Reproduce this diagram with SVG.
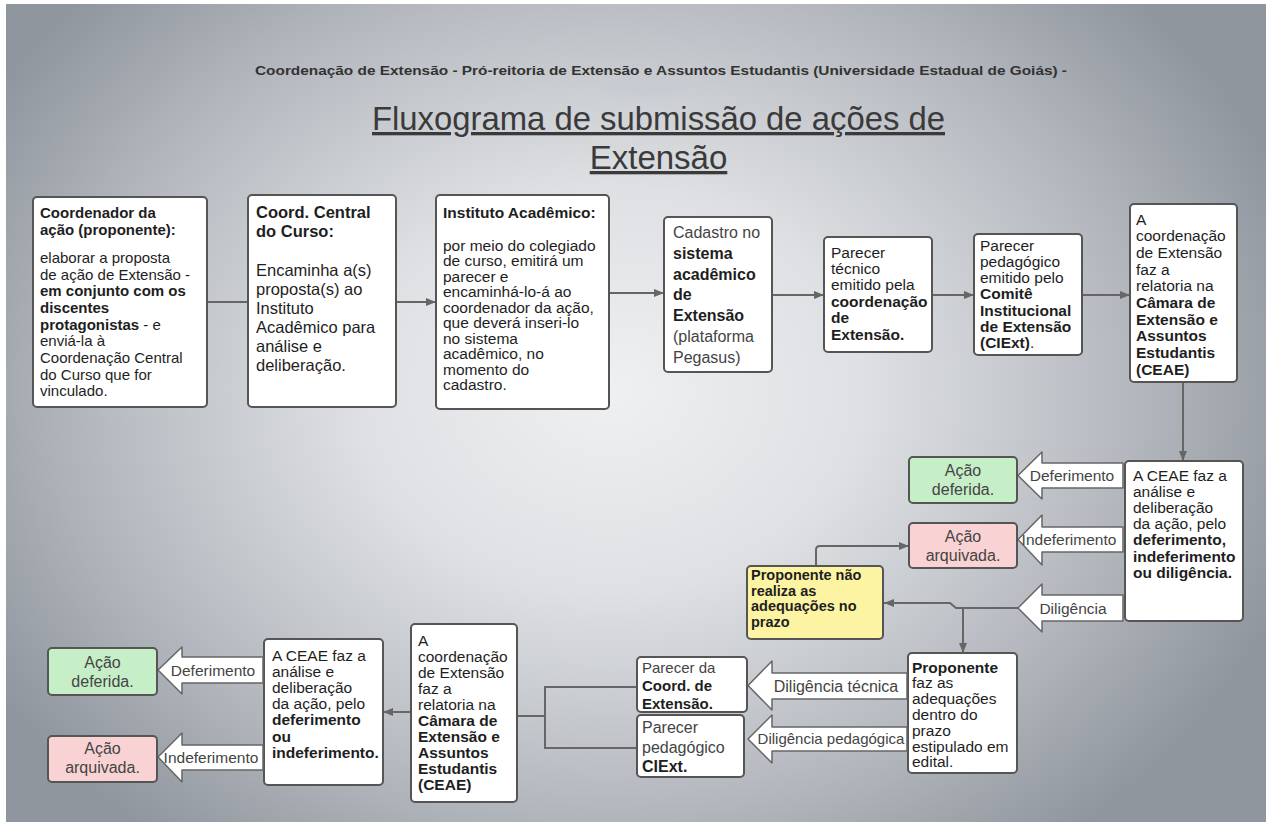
<svg xmlns="http://www.w3.org/2000/svg" width="1270" height="826" viewBox="0 0 1270 826">
<defs>
<radialGradient id="bg" gradientUnits="userSpaceOnUse" cx="610" cy="390" r="720" gradientTransform="translate(610 390) scale(1 0.8) translate(-610 -390)">
<stop offset="0" stop-color="#eff0f2"/>
<stop offset="0.35" stop-color="#dee0e3"/>
<stop offset="0.7" stop-color="#b7bbc1"/>
<stop offset="1" stop-color="#90969e"/>
</radialGradient>
<filter id="blur" x="-50%" y="-50%" width="200%" height="200%"><feGaussianBlur stdDeviation="4"/></filter>
<marker id="ah" viewBox="0 0 10 8" refX="10" refY="4" markerWidth="10" markerHeight="8" markerUnits="userSpaceOnUse" orient="auto"><path d="M0,0 L10,4 L0,8 z" fill="#666"/></marker>
<style>
.box{fill:#fff;stroke:#555;stroke-width:2}
.green{fill:#c6efc8;stroke:#555;stroke-width:2}
.red{fill:#f9d3d3;stroke:#555;stroke-width:2}
.yellow{fill:#fdf4a3;stroke:#555;stroke-width:2}
.barrow{fill:#fff;stroke:#666;stroke-width:1.5;stroke-linejoin:round}
.t{font-family:"Liberation Sans",Arial,sans-serif;font-size:15.5px;fill:#1e1e1e}
.g{fill:#444}
.b{font-weight:bold}
.c{text-anchor:middle}
.conn{stroke:#666;stroke-width:2;fill:none}
.arr{marker-end:url(#ah)}
</style>
</defs>
<rect width="1270" height="826" fill="#fff"/>
<rect x="6" y="4" width="1260" height="818" fill="url(#bg)"/>
<ellipse cx="645" cy="88" rx="38" ry="9" fill="#c4cbd1" opacity="0.6" filter="url(#blur)"/>

<g id="header">
<text x="661" y="75" class="t b c" style="font-size:13px;fill:#333" textLength="812" lengthAdjust="spacingAndGlyphs">Coordenação de Extensão - Pró-reitoria de Extensão e Assuntos Estudantis (Universidade Estadual de Goiás) -</text>
<text x="658.5" y="130" class="t c" style="font-size:33px;fill:#3a3a3a;text-decoration:underline" textLength="573" lengthAdjust="spacingAndGlyphs">Fluxograma de submissão de ações de</text>
<text x="658.5" y="169" class="t c" style="font-size:33px;fill:#3a3a3a;text-decoration:underline">Extensão</text>
</g>

<g id="connectors">
<path class="conn" d="M207,302 H248"/>
<path class="conn arr" d="M396,302 H436"/>
<path class="conn arr" d="M609,293 H664"/>
<path class="conn arr" d="M772,295 H824"/>
<path class="conn arr" d="M932,295 H974"/>
<path class="conn arr" d="M1082,295 H1130"/>
<path class="conn arr" d="M1183,382 V461"/>
<path class="conn arr" d="M1018,608 H956 L950,603 H884"/>
<path class="conn arr" d="M963,608 V653"/>
<path class="conn arr" d="M816,566 V550 Q816,546 820,546 H909"/>
<path class="conn arr" d="M411,712 H383"/>
<path class="conn" d="M637,687 H545 V748 H637"/>
<path class="conn" d="M545,716 H517"/>
</g>

<g id="n1">
<rect class="box" x="33" y="197" width="174" height="210" rx="4"/>
<text class="t b" x="40" y="218" style="font-size:15px">Coordenador da</text>
<text class="t b" x="40" y="235" style="font-size:15px">ação (proponente):</text>
<text class="t" x="40" y="263" style="font-size:15px">elaborar a proposta</text>
<text class="t" x="40" y="280" style="font-size:15px">de ação de Extensão -</text>
<text class="t b" x="40" y="296" style="font-size:15px">em conjunto com os</text>
<text class="t b" x="40" y="313" style="font-size:15px">discentes</text>
<text class="t" x="40" y="330" style="font-size:15px"><tspan class="b">protagonistas</tspan> - e</text>
<text class="t" x="40" y="346" style="font-size:15px">enviá-la à</text>
<text class="t" x="40" y="363" style="font-size:15px">Coordenação Central</text>
<text class="t" x="40" y="380" style="font-size:15px">do Curso que for</text>
<text class="t" x="40" y="396" style="font-size:15px">vinculado.</text>
</g>

<g id="n2">
<rect class="box" x="248" y="195" width="148" height="212" rx="4"/>
<text class="t b" x="256" y="218" style="font-size:16.5px">Coord. Central</text>
<text class="t b" x="256" y="237" style="font-size:16.5px">do Curso:</text>
<text class="t" x="256" y="276" style="font-size:16.5px">Encaminha a(s)</text>
<text class="t" x="256" y="295" style="font-size:16.5px">proposta(s) ao</text>
<text class="t" x="256" y="314" style="font-size:16.5px">Instituto</text>
<text class="t" x="256" y="333" style="font-size:16.5px">Acadêmico para</text>
<text class="t" x="256" y="352" style="font-size:16.5px">análise e</text>
<text class="t" x="256" y="371" style="font-size:16.5px">deliberação.</text>
</g>

<g id="n3">
<rect class="box" x="436" y="195" width="173" height="214" rx="4"/>
<text class="t b" x="443" y="218">Instituto Acadêmico:</text>
<text class="t" x="443" y="250.5">por meio do colegiado</text>
<text class="t" x="443" y="266">de curso, emitirá um</text>
<text class="t" x="443" y="281.5">parecer e</text>
<text class="t" x="443" y="297">encaminhá-lo-á ao</text>
<text class="t" x="443" y="312.5">coordenador da ação,</text>
<text class="t" x="443" y="328">que deverá inseri-lo</text>
<text class="t" x="443" y="343.5">no sistema</text>
<text class="t" x="443" y="359">acadêmico, no</text>
<text class="t" x="443" y="374.5">momento do</text>
<text class="t" x="443" y="390">cadastro.</text>
</g>

<g id="n4">
<rect class="box" x="664" y="217" width="108" height="155" rx="4"/>
<text class="t g" x="673" y="238" style="font-size:16px">Cadastro no</text>
<text class="t b" x="673" y="258.8" style="font-size:16px">sistema</text>
<text class="t b" x="673" y="279.6" style="font-size:16px">acadêmico</text>
<text class="t b" x="673" y="300.4" style="font-size:16px">de</text>
<text class="t b" x="673" y="321.2" style="font-size:16px">Extensão</text>
<text class="t g" x="673" y="342" style="font-size:16px">(plataforma</text>
<text class="t g" x="673" y="362.8" style="font-size:16px">Pegasus)</text>
</g>

<g id="n5">
<rect class="box" x="824" y="237" width="108" height="115" rx="4"/>
<text class="t" x="831" y="257.5">Parecer</text>
<text class="t" x="831" y="273.9">técnico</text>
<text class="t" x="831" y="290.3">emitido pela</text>
<text class="t b" x="831" y="306.7">coordenação</text>
<text class="t b" x="831" y="323.1">de</text>
<text class="t b" x="831" y="339.5">Extensão.</text>
</g>

<g id="n6">
<rect class="box" x="974" y="234" width="108" height="121" rx="4"/>
<text class="t" x="980" y="250.5">Parecer</text>
<text class="t" x="980" y="266.8">pedagógico</text>
<text class="t" x="980" y="283.1">emitido pelo</text>
<text class="t b" x="980" y="299.4">Comitê</text>
<text class="t b" x="980" y="315.7">Institucional</text>
<text class="t b" x="980" y="332">de Extensão</text>
<text class="t" x="980" y="348.3"><tspan class="b">(CIExt)</tspan>.</text>
</g>

<g id="n7">
<rect class="box" x="1130" y="204" width="107" height="178" rx="4"/>
<text class="t" x="1136" y="224.5">A</text>
<text class="t" x="1136" y="241.2">coordenação</text>
<text class="t" x="1136" y="257.9">de Extensão</text>
<text class="t" x="1136" y="274.6">faz a</text>
<text class="t" x="1136" y="291.3">relatoria na</text>
<text class="t b" x="1136" y="308">Câmara de</text>
<text class="t b" x="1136" y="324.7">Extensão e</text>
<text class="t b" x="1136" y="341.4">Assuntos</text>
<text class="t b" x="1136" y="358.1">Estudantis</text>
<text class="t b" x="1136" y="374.8">(CEAE)</text>
</g>

<g id="arrow-deferimento-1">
<path class="barrow" d="M1018,475.5 L1042,452 L1042,463 L1123,463 L1123,488 L1042,488 L1042,499 Z"/>
<text class="t g c" x="1072" y="481">Deferimento</text>
</g>
<g id="arrow-indeferimento-1">
<path class="barrow" d="M1018,539.5 L1042,515 L1042,527 L1123,527 L1123,552 L1042,552 L1042,565 Z"/>
<text class="t g c" x="1069" y="545">Indeferimento</text>
</g>
<g id="arrow-diligencia-1">
<path class="barrow" d="M1018,608 L1042,584 L1042,595 L1123,595 L1123,621 L1042,621 L1042,632 Z"/>
<text class="t g c" x="1073" y="613.5">Diligência</text>
</g>

<g id="n8">
<rect class="box" x="1125" y="461" width="118" height="160" rx="4"/>
<text class="t" x="1133" y="480.5">A CEAE faz a</text>
<text class="t" x="1133" y="496.7">análise e</text>
<text class="t" x="1133" y="512.9">deliberação</text>
<text class="t" x="1133" y="529.1">da ação, pelo</text>
<text class="t b" x="1133" y="545.3">deferimento,</text>
<text class="t b" x="1133" y="561.5">indeferimento</text>
<text class="t b" x="1133" y="577.7">ou diligência.</text>
</g>

<g id="n9">
<rect class="green" x="909" y="457" width="108" height="46" rx="4"/>
<text class="t g c" x="963" y="476" style="font-size:16px">Ação</text>
<text class="t g c" x="963" y="495" style="font-size:16px">deferida.</text>
</g>
<g id="n10">
<rect class="red" x="909" y="523" width="108" height="45" rx="4"/>
<text class="t g c" x="963" y="541.5" style="font-size:16px">Ação</text>
<text class="t g c" x="963" y="560.5" style="font-size:16px">arquivada.</text>
</g>

<g id="n11">
<rect class="yellow" x="747" y="566" width="136" height="73" rx="4"/>
<text class="t b" x="751" y="580" style="font-size:14.5px">Proponente não</text>
<text class="t b" x="751" y="595.5" style="font-size:14.5px">realiza as</text>
<text class="t b" x="751" y="611" style="font-size:14.5px">adequações no</text>
<text class="t b" x="751" y="626.5" style="font-size:14.5px">prazo</text>
</g>

<g id="n12">
<rect class="box" x="908" y="653" width="109" height="120" rx="4"/>
<text class="t b" x="912" y="672.5">Proponente</text>
<text class="t" x="912" y="688.3">faz as</text>
<text class="t" x="912" y="704.1">adequações</text>
<text class="t" x="912" y="719.9">dentro do</text>
<text class="t" x="912" y="735.7">prazo</text>
<text class="t" x="912" y="751.5">estipulado em</text>
<text class="t" x="912" y="767.3">edital.</text>
</g>

<g id="arrow-diligencia-tecnica">
<path class="barrow" d="M748,685.5 L772,661 L772,673 L907,673 L907,699 L772,699 L772,710 Z"/>
<text class="t g c" x="836" y="691.5" style="font-size:16px">Diligência técnica</text>
</g>
<g id="arrow-diligencia-pedagogica">
<path class="barrow" d="M748,739 L772,715 L772,727 L907,727 L907,751 L772,751 L772,763 Z"/>
<text class="t g c" x="831" y="744" style="font-size:15px">Diligência pedagógica</text>
</g>

<g id="n13">
<rect class="box" x="637" y="657" width="110" height="55" rx="4"/>
<text class="t g" x="642" y="673" style="font-size:15px">Parecer da</text>
<text class="t b" x="642" y="691" style="font-size:15px">Coord. de</text>
<text class="t b" x="642" y="708.5" style="font-size:15px">Extensão.</text>
</g>
<g id="n14">
<rect class="box" x="637" y="715" width="107" height="62" rx="4"/>
<text class="t g" x="642" y="733" style="font-size:16px">Parecer</text>
<text class="t g" x="642" y="752.5" style="font-size:16px">pedagógico</text>
<text class="t b" x="642" y="772" style="font-size:16px">CIExt.</text>
</g>

<g id="n15">
<rect class="box" x="411" y="624" width="106" height="178" rx="4"/>
<text class="t" x="418" y="645.5">A</text>
<text class="t" x="418" y="661.6">coordenação</text>
<text class="t" x="418" y="677.7">de Extensão</text>
<text class="t" x="418" y="693.8">faz a</text>
<text class="t" x="418" y="709.9">relatoria na</text>
<text class="t b" x="418" y="726">Câmara de</text>
<text class="t b" x="418" y="742.1">Extensão e</text>
<text class="t b" x="418" y="758.2">Assuntos</text>
<text class="t b" x="418" y="774.3">Estudantis</text>
<text class="t b" x="418" y="790.4">(CEAE)</text>
</g>

<g id="n16">
<rect class="box" x="264" y="639" width="119" height="146" rx="4"/>
<text class="t" x="272" y="660.5">A CEAE faz a</text>
<text class="t" x="272" y="676.7">análise e</text>
<text class="t" x="272" y="692.9">deliberação</text>
<text class="t" x="272" y="709.1">da ação, pelo</text>
<text class="t b" x="272" y="725.3">deferimento</text>
<text class="t b" x="272" y="741.5">ou</text>
<text class="t b" x="272" y="757.7">indeferimento.</text>
</g>

<g id="arrow-deferimento-2">
<path class="barrow" d="M158,670 L182,647 L182,657 L263,657 L263,683 L182,683 L182,694 Z"/>
<text class="t g c" x="213" y="676">Deferimento</text>
</g>
<g id="arrow-indeferimento-2">
<path class="barrow" d="M158,757 L182,733 L182,745 L263,745 L263,770 L182,770 L182,782 Z"/>
<text class="t g c" x="211" y="763">Indeferimento</text>
</g>

<g id="n17">
<rect class="green" x="48" y="648" width="109" height="47" rx="4"/>
<text class="t g c" x="102.5" y="667.5" style="font-size:16px">Ação</text>
<text class="t g c" x="102.5" y="686.5" style="font-size:16px">deferida.</text>
</g>
<g id="n18">
<rect class="red" x="48" y="736" width="109" height="46" rx="4"/>
<text class="t g c" x="102.5" y="753.5" style="font-size:16px">Ação</text>
<text class="t g c" x="102.5" y="772.5" style="font-size:16px">arquivada.</text>
</g>
</svg>
